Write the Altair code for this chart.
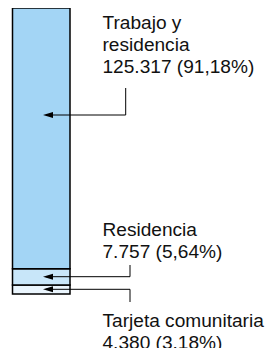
import altair as alt
import pandas as pd

categories = ["Tarjeta comunitaria", "Residencia", "Trabajo y residencia"]
values = [4380, 7757, 125317]
percents = ["3.18%", "5,64%", "91,18%"]
value_labels = ["4.380", "7.757", "125.317"]
colors = ["#eaf5fd", "#c8e6f9", "#a3d5f5"]

total = sum(values)
starts, ends = [], []
acc = 0
for v in values:
    starts.append(acc)
    acc += v
    ends.append(acc)

bars = pd.DataFrame({"cat": categories, "start": starts, "end": ends, "color": colors})

yscale = alt.Scale(domain=[0, total], range=[286, 0])

bar = alt.Chart(bars).mark_bar(stroke="black", strokeWidth=1.5).encode(
    x=alt.value(4.5),
    x2=alt.value(62),
    y=alt.Y("start:Q", scale=yscale, axis=None),
    y2="end:Q",
    fill=alt.Fill("color:N", scale=None),
)

# callout geometry (pixels)
callouts = pd.DataFrame({
    "label": [
        "Trabajo y\nresidencia\n" + value_labels[2] + " (" + percents[2] + ")",
        "Residencia\n" + value_labels[1] + " (" + percents[1] + ")",
        "Tarjeta comunitaria\n" + value_labels[0] + " (" + percents[0] + ")",
    ],
    "tx": [94.5, 94.5, 94.5],
    "ty": [21, 228, 318.7],
    "ay": [107, 268.7, 281.3],
    "vx": [117.7, 122, 122],
    "vy1": [80, 257, 281.3],
    "vy2": [107, 268.7, 294],
})

hl = alt.Chart(callouts).mark_rule(color="black", strokeWidth=1).encode(
    x=alt.X("ax:Q", scale=None), x2="vx:Q", y=alt.Y("ay:Q", scale=None)
).transform_calculate(ax="38")

vl = alt.Chart(callouts).mark_rule(color="black", strokeWidth=1).encode(
    x=alt.X("vx:Q", scale=None), y=alt.Y("vy1:Q", scale=None), y2="vy2:Q"
)

arrow = alt.Chart(callouts).mark_point(
    shape="M-1,0L1,-0.6L1,0.6Z", filled=True, color="black", size=100, opacity=1
).encode(
    x=alt.X("px:Q", scale=None), y=alt.Y("ay:Q", scale=None)
).transform_calculate(px="40")

text = alt.Chart(callouts).mark_text(
    align="left", baseline="alphabetic", font="Liberation Sans", fontSize=19.1,
    lineHeight=22, color="#111111"
).encode(
    x=alt.X("tx:Q", scale=None), y=alt.Y("ty:Q", scale=None), text="label:N"
).transform_calculate(label="split(datum.label, '\\n')")

chart = alt.layer(bar, hl, vl, arrow, text).properties(
    width=257, height=340, padding=0, autosize="none"
).resolve_scale(y="independent", x="independent").configure_view(stroke=None)

chart.save("out.html", embed_options={"renderer": "svg", "actions": False})
